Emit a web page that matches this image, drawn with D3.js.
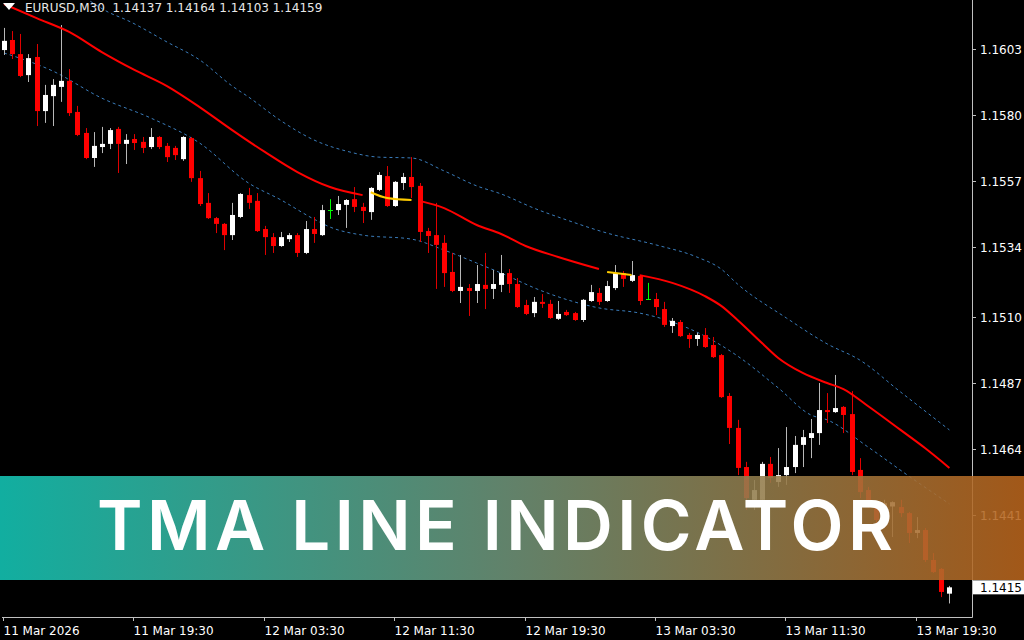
<!DOCTYPE html>
<html>
<head>
<meta charset="utf-8">
<script src="https://cdn.jsdelivr.net/npm/d3@7"></script>
<style>
  html, body { margin: 0; padding: 0; background: #000; }
  svg { display: block; }
</style>
</head>
<body>
<svg id="chart" width="1024" height="640"></svg>
<script>
const width = 1024;
const height = 640;
const plotRight = 972;
const plotBottom = 617;

const symbolTitle = "EURUSD,M30  1.14137 1.14164 1.14103 1.14159";
const bannerText = "TMA LINE INDICATOR";

// price axis labels as shown by the terminal
const priceTicks = [1.1603, 1.158, 1.1557, 1.1534, 1.151, 1.1487, 1.1464, 1.1441];
const lastPrice = 1.14159;

// time axis: bar index of each label and its text
const timeTickBars = [0, 16, 32, 48, 64, 80, 96, 112];
const timeTickLabels = [
  "11 Mar 2026", "11 Mar 19:30", "12 Mar 03:30", "12 Mar 11:30",
  "12 Mar 19:30", "13 Mar 03:30", "13 Mar 11:30", "13 Mar 19:30",
];

// M30 candles, [open, high, low, close]
const ohlc = [
  [1.16026, 1.16103, 1.16009, 1.16058], [1.16061, 1.16092, 1.15995, 1.16012],
  [1.16012, 1.16082, 1.15932, 1.15936], [1.15939, 1.16012, 1.15915, 1.15998],
  [1.16002, 1.16047, 1.15762, 1.15814], [1.15814, 1.15905, 1.15773, 1.1587],
  [1.15866, 1.15925, 1.15762, 1.15905], [1.15898, 1.16113, 1.15846, 1.15919],
  [1.15919, 1.1596, 1.15797, 1.15807], [1.15811, 1.15832, 1.15727, 1.15731],
  [1.15738, 1.15755, 1.15647, 1.15651], [1.15651, 1.15741, 1.1562, 1.15693],
  [1.15689, 1.15759, 1.15668, 1.157], [1.157, 1.15755, 1.15682, 1.15748],
  [1.15752, 1.15759, 1.15599, 1.157], [1.157, 1.15734, 1.1563, 1.15714],
  [1.15717, 1.15734, 1.15679, 1.15703], [1.15707, 1.15724, 1.15668, 1.15686],
  [1.15689, 1.15755, 1.15682, 1.15724], [1.15724, 1.15727, 1.15682, 1.15689],
  [1.15693, 1.15703, 1.15637, 1.15654], [1.15686, 1.15693, 1.15644, 1.15661],
  [1.15647, 1.15727, 1.15641, 1.15724], [1.1572, 1.15724, 1.15568, 1.15581],
  [1.15581, 1.15606, 1.15484, 1.15491], [1.15495, 1.15529, 1.15439, 1.15442],
  [1.15442, 1.15446, 1.1539, 1.15422], [1.15422, 1.15425, 1.15331, 1.15383],
  [1.15383, 1.15495, 1.15366, 1.15453], [1.15446, 1.15529, 1.15442, 1.15526],
  [1.15522, 1.15547, 1.15474, 1.15495], [1.15502, 1.15529, 1.15394, 1.15397],
  [1.15404, 1.15415, 1.15314, 1.15376], [1.15376, 1.1539, 1.15321, 1.15345],
  [1.15345, 1.15394, 1.15342, 1.15376], [1.15369, 1.1539, 1.15359, 1.15383],
  [1.15383, 1.1539, 1.15307, 1.15321], [1.15321, 1.15432, 1.15317, 1.15404],
  [1.15404, 1.15446, 1.15356, 1.15387], [1.15383, 1.15488, 1.1538, 1.1547],
  [1.1547, 1.15508, 1.15439, 1.1547], [1.1547, 1.15519, 1.15453, 1.15491],
  [1.15488, 1.15508, 1.15408, 1.15505], [1.15508, 1.1555, 1.15463, 1.15481],
  [1.15481, 1.15495, 1.15425, 1.15467], [1.15463, 1.1555, 1.15436, 1.15547],
  [1.1554, 1.15602, 1.15536, 1.15592], [1.15588, 1.15623, 1.15481, 1.15484],
  [1.15484, 1.15571, 1.15481, 1.15568], [1.15564, 1.15599, 1.1554, 1.15585],
  [1.15585, 1.15654, 1.15512, 1.1555], [1.15554, 1.15564, 1.15359, 1.15394],
  [1.15397, 1.15408, 1.15321, 1.1538], [1.15383, 1.15495, 1.15196, 1.15349],
  [1.15356, 1.15383, 1.15203, 1.15251], [1.15255, 1.15321, 1.15185, 1.15189],
  [1.15189, 1.15314, 1.15147, 1.15203], [1.15199, 1.15213, 1.15102, 1.15189],
  [1.15189, 1.15279, 1.15147, 1.15213], [1.1521, 1.15321, 1.15126, 1.15196],
  [1.15196, 1.15262, 1.15161, 1.15213], [1.1521, 1.15314, 1.15185, 1.15251],
  [1.15251, 1.15265, 1.15182, 1.15213], [1.15213, 1.15234, 1.1513, 1.15133],
  [1.1514, 1.15158, 1.15105, 1.15109], [1.15112, 1.15168, 1.15098, 1.15151],
  [1.15151, 1.15178, 1.1513, 1.15144], [1.15144, 1.15158, 1.15092, 1.15095],
  [1.15092, 1.15154, 1.15088, 1.15109], [1.15116, 1.15123, 1.15102, 1.15105],
  [1.15112, 1.15116, 1.15085, 1.15088], [1.15088, 1.15161, 1.15081, 1.15158],
  [1.15154, 1.1521, 1.15151, 1.15185], [1.15182, 1.15199, 1.1514, 1.15151],
  [1.15154, 1.15224, 1.15151, 1.15206], [1.15199, 1.15279, 1.15192, 1.15251],
  [1.15251, 1.15258, 1.15203, 1.15231], [1.15224, 1.15293, 1.1522, 1.15244],
  [1.15241, 1.15244, 1.1514, 1.15154], [1.15161, 1.15217, 1.15158, 1.15161],
  [1.15161, 1.15182, 1.15105, 1.15133], [1.15126, 1.15151, 1.15064, 1.15071],
  [1.15067, 1.15095, 1.15043, 1.15085], [1.15081, 1.15088, 1.15029, 1.15032],
  [1.15036, 1.15043, 1.14991, 1.15022], [1.15022, 1.15043, 1.14998, 1.15036],
  [1.15036, 1.1506, 1.14991, 1.14994], [1.15001, 1.15029, 1.14956, 1.14959],
  [1.14966, 1.1497, 1.14817, 1.1482], [1.14824, 1.14834, 1.14657, 1.14713],
  [1.14713, 1.14741, 1.14549, 1.14574], [1.14577, 1.14595, 1.14428, 1.14469],
  [1.14463, 1.14532, 1.14428, 1.14497], [1.14463, 1.14595, 1.14451, 1.14588],
  [1.14588, 1.14612, 1.14522, 1.14539], [1.14525, 1.14643, 1.14508, 1.14549],
  [1.14549, 1.14716, 1.14515, 1.14577], [1.14577, 1.14685, 1.14556, 1.14654],
  [1.14654, 1.14706, 1.14577, 1.14681], [1.14678, 1.14744, 1.14608, 1.14695],
  [1.14695, 1.14869, 1.14654, 1.14775], [1.14775, 1.14834, 1.1473, 1.14768],
  [1.14768, 1.14897, 1.14765, 1.14782], [1.14786, 1.14789, 1.14695, 1.14758],
  [1.14761, 1.14841, 1.14549, 1.1456], [1.14567, 1.14608, 1.14469, 1.1449],
  [1.14497, 1.14508, 1.14435, 1.14452], [1.14438, 1.14452, 1.14376, 1.14393],
  [1.14393, 1.14463, 1.14365, 1.14451], [1.1444, 1.14458, 1.14334, 1.14455],
  [1.14438, 1.14463, 1.14403, 1.14417], [1.14417, 1.14421, 1.14313, 1.14348],
  [1.14348, 1.14403, 1.1433, 1.14358], [1.14358, 1.14365, 1.14247, 1.14254],
  [1.14254, 1.14278, 1.14209, 1.14212], [1.14223, 1.14226, 1.14125, 1.14143],
  [1.14137, 1.14164, 1.14103, 1.14159],
];

// TMA centre line, [bar, price], split where the indicator switches colour
const tmaDown1 = [
  [0, 1.16186], [4, 1.16137], [8, 1.16089], [12, 1.16019], [16, 1.15957],
  [20, 1.15901], [24, 1.15828], [28, 1.15748], [32, 1.15672], [36, 1.15602],
  [40, 1.1555], [44, 1.15522],
];
const tmaFlat1 = [[45, 1.15532], [47, 1.15512], [50, 1.15505]];
const tmaDown2 = [
  [51, 1.15502], [54, 1.15477], [58, 1.15418], [61, 1.15387], [64, 1.15345],
  [68, 1.15307], [73, 1.15265],
];
const tmaFlat2 = [[74, 1.15255], [77, 1.15244]];
const tmaDown3 = [
  [78, 1.15244], [82, 1.15217], [86, 1.15171], [88, 1.15137], [90, 1.15088],
  [93, 1.15008], [95, 1.14956], [98, 1.14904], [101, 1.14869], [103, 1.14848],
  [106, 1.14789], [110, 1.14706], [113, 1.14643], [116, 1.14574],
];

// TMA bands
const upperBand = [
  [0, 1.16339], [8, 1.16242], [13, 1.16155], [15, 1.16131], [20, 1.16054],
  [24, 1.15992], [28, 1.15901], [30, 1.15863], [34, 1.1578], [38, 1.15714],
  [42, 1.15675], [46, 1.15654], [50, 1.15651], [54, 1.15606], [58, 1.15554],
  [61, 1.15526], [65, 1.15477], [69, 1.15436], [74, 1.1539], [80, 1.15349],
  [85, 1.15307], [88, 1.15265], [90, 1.15213], [96, 1.15095], [101, 1.15005],
  [105, 1.14949], [110, 1.14838], [116, 1.14706],
];
const lowerBand = [
  [0, 1.16016], [6, 1.15953], [12, 1.15859], [18, 1.1579], [24, 1.15703],
  [30, 1.15564], [34, 1.15505], [38, 1.15439], [40, 1.15411], [44, 1.15383],
  [50, 1.15369], [54, 1.15331], [58, 1.15286], [61, 1.15251], [66, 1.15189],
  [73, 1.1513], [78, 1.15112], [82, 1.15081], [86, 1.15032], [90, 1.14963],
  [95, 1.14852], [99, 1.14758], [101, 1.14741], [106, 1.14647], [111, 1.14546],
  [116, 1.14449],
];

const svg = d3.select("#chart");
svg.append("rect").attr("width", width).attr("height", height).attr("fill", "#000");

const x = d3.scaleLinear().domain([0, ohlc.length - 1]).range([4, 949.4]);
const y = d3.scaleLinear().domain([1.162, 1.14115]).range([0, 600]);

// the terminal cuts prices to 4 digits rather than rounding
const fmtPrice = (p) => (Math.floor(p * 10000 + 1e-6) / 10000).toFixed(4);

svg.append("defs").append("clipPath").attr("id", "plotClip")
  .append("rect").attr("width", plotRight).attr("height", plotBottom);

const plot = svg.append("g").attr("clip-path", "url(#plotClip)");

// bands
const curve = d3.line().x((d) => x(d[0])).y((d) => y(d[1])).curve(d3.curveMonotoneX);
[upperBand, lowerBand].forEach((band) => {
  plot.append("path")
    .attr("d", curve(band))
    .attr("fill", "none")
    .attr("stroke", "#3a7cba")
    .attr("stroke-width", 1)
    .attr("stroke-dasharray", "3,3");
});

// candles
const candles = plot.append("g");
ohlc.forEach((d, i) => {
  const [o, h, l, c] = d;
  const cx = Math.round(x(i)) + 0.5;
  const doji = o === c;
  const bull = c > o;
  const wickColor = doji ? "#00ff00" : bull ? "#b8b8b8" : "#e00000";
  candles.append("line")
    .attr("x1", cx).attr("x2", cx)
    .attr("y1", y(h)).attr("y2", y(l))
    .attr("stroke", wickColor);
  if (doji) {
    candles.append("line")
      .attr("x1", cx - 2.5).attr("x2", cx + 2.5)
      .attr("y1", Math.round(y(o)) + 0.5).attr("y2", Math.round(y(o)) + 0.5)
      .attr("stroke", "#00ff00");
    return;
  }
  const top = y(Math.max(o, c));
  const bodyH = Math.max(1, Math.abs(y(o) - y(c)));
  candles.append("rect")
    .attr("x", cx - 2.5)
    .attr("y", top)
    .attr("width", 5)
    .attr("height", bodyH)
    .attr("fill", bull ? "#ffffff" : "#ff0000");
});

// TMA centre line segments
[[tmaDown1, "#ff0000"], [tmaFlat1, "#ffcc00"], [tmaDown2, "#ff0000"],
 [tmaFlat2, "#ffcc00"], [tmaDown3, "#ff0000"]].forEach(([seg, color]) => {
  plot.append("path")
    .attr("d", curve(seg))
    .attr("fill", "none")
    .attr("stroke", color)
    .attr("stroke-width", 2);
});

// frame
svg.append("line").attr("x1", plotRight + 0.5).attr("x2", plotRight + 0.5)
  .attr("y1", 0).attr("y2", plotBottom + 0.5).attr("stroke", "#c0c0c0");
svg.append("line").attr("x1", 2).attr("x2", plotRight + 0.5)
  .attr("y1", plotBottom + 0.5).attr("y2", plotBottom + 0.5).attr("stroke", "#c0c0c0");

// price axis
const priceAxis = svg.append("g").style("font-family", "DejaVu Sans").style("font-size", "12px");
priceTicks.forEach((p) => {
  const ty = Math.round(y(p)) + 0.5;
  priceAxis.append("line").attr("x1", plotRight).attr("x2", plotRight + 4)
    .attr("y1", ty).attr("y2", ty).attr("stroke", "#c0c0c0");
  priceAxis.append("text").attr("x", 980).attr("y", ty + 4.5)
    .attr("fill", "#ffffff").text(p.toFixed(4));
});

// time axis
const timeAxis = svg.append("g").style("font-family", "DejaVu Sans").style("font-size", "12px");
timeTickBars.forEach((b, k) => {
  const tx = Math.round(x(b)) - 0.5;
  timeAxis.append("line").attr("x1", tx).attr("x2", tx)
    .attr("y1", plotBottom).attr("y2", plotBottom + 4).attr("stroke", "#c0c0c0");
  timeAxis.append("text").attr("x", tx).attr("y", 635)
    .attr("fill", "#ffffff").text(timeTickLabels[k]);
});

// header
svg.append("path").attr("d", "M3,3 L15,3 L9,10 Z").attr("fill", "#ffffff");
svg.append("text").attr("x", 25).attr("y", 12)
  .style("font-family", "DejaVu Sans").style("font-size", "12px")
  .attr("fill", "#e8e8e8").attr("xml:space", "preserve").text(symbolTitle);

// banner
const grad = svg.select("defs").append("linearGradient").attr("id", "bannerGrad")
  .attr("x1", "0%").attr("x2", "100%");
grad.append("stop").attr("offset", "0%").attr("stop-color", "#14c6b6");
grad.append("stop").attr("offset", "50%").attr("stop-color", "#6f9378");
grad.append("stop").attr("offset", "100%").attr("stop-color", "#b8641c");
svg.append("rect").attr("x", 0).attr("y", 476).attr("width", width).attr("height", 104)
  .attr("fill", "url(#bannerGrad)").attr("opacity", 0.88);

const title = svg.append("text")
  .attr("x", 495).attr("y", 550)
  .attr("text-anchor", "middle")
  .style("font-family", "Inter")
  .style("font-weight", 600)
  .style("font-size", "69px")
  .attr("fill", "#ffffff")
  .text(bannerText);
const natural = title.node().getComputedTextLength();
const spacing = (796 - natural) / (bannerText.length - 1);
title.style("letter-spacing", spacing + "px").attr("x", 495 + spacing / 2);

// current price marker
const lastY = y(lastPrice);
svg.append("rect").attr("x", plotRight + 1).attr("y", lastY - 7)
  .attr("width", width - plotRight - 1).attr("height", 14).attr("fill", "#ffffff");
svg.append("text").attr("x", 980).attr("y", lastY + 4.5)
  .style("font-family", "DejaVu Sans").style("font-size", "12px")
  .attr("fill", "#000000").text(fmtPrice(lastPrice));
</script>
</body>
</html>
